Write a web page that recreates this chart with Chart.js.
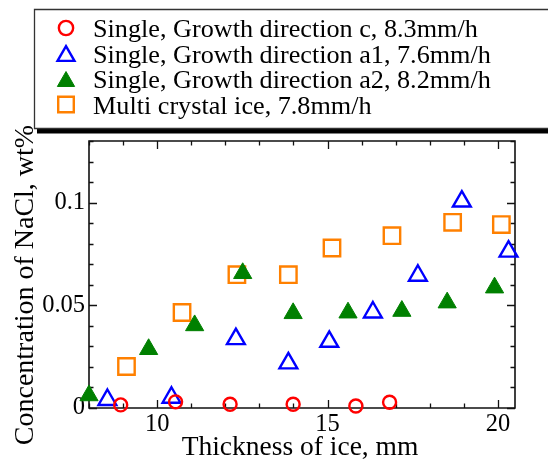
<!DOCTYPE html>
<html>
<head>
<meta charset="utf-8">
<script src="https://cdn.jsdelivr.net/npm/chart.js@4"></script>
<style>
html,body{margin:0;padding:0;background:#fff;}
#wrap{width:548px;height:461px;position:relative;}
</style>
</head>
<body>
<div id="wrap"><canvas id="c" width="548" height="461"></canvas></div>
<script>
// ---- data ----
const seriesLabels = [
  "Single, Growth direction c, 8.3mm/h",
  "Single, Growth direction a1, 7.6mm/h",
  "Single, Growth direction a2, 8.2mm/h",
  "Multi crystal ice, 7.8mm/h"
];
const cX  = [8.93, 10.54, 12.14, 13.99, 15.83, 16.82];
const cY  = [0.0015, 0.003, 0.0018, 0.0018, 0.001, 0.0028];
const a1X = [8.54, 10.42, 12.31, 13.85, 15.05, 16.33, 17.65, 18.94, 20.31];
const a1Y = [0.004, 0.0051, 0.0336, 0.0218, 0.0323, 0.0466, 0.0645, 0.1006, 0.0762];
const a2X = [8.0, 9.75, 11.1, 12.51, 13.99, 15.6, 17.18, 18.51, 19.9];
const a2Y = [0.0061, 0.0286, 0.0402, 0.0656, 0.0461, 0.0464, 0.0472, 0.0513, 0.0586];
const mX  = [9.1, 10.73, 12.34, 13.85, 15.13, 16.89, 18.67, 20.1];
const mY  = [0.0202, 0.0465, 0.0649, 0.0649, 0.0779, 0.0839, 0.0904, 0.0893];
const xMajorTicks = [10, 15, 20];
const yMajorTicks = [0, 0.05, 0.1];
const yTickLabels = ["0", "0.05", "0.1"];
const xTitle = "Thickness of ice, mm";
const yTitle = "Concentration of NaCl, wt%";

const pts = (xs, ys) => xs.map((x, i) => ({x: x, y: ys[i]}));
const SERIF = "'Liberation Serif', 'DejaVu Serif', serif";

const datasets = [
  {label: seriesLabels[0], data: pts(cX, cY), pointStyle: 'circle', pointRadius: 6.5,
   borderColor: '#ff0000', backgroundColor: 'rgba(0,0,0,0)', borderWidth: 2.4},
  {label: seriesLabels[1], data: pts(a1X, a1Y), pointStyle: 'triangle', pointRadius: 10.3,
   borderColor: '#0000ff', backgroundColor: 'rgba(0,0,0,0)', borderWidth: 2.4},
  {label: seriesLabels[2], data: pts(a2X, a2Y), pointStyle: 'triangle', pointRadius: 10.5,
   borderColor: '#008000', backgroundColor: '#008000', borderWidth: 1},
  {label: seriesLabels[3], data: pts(mX, mY), pointStyle: 'rect', pointRadius: 11.6,
   borderColor: '#ff8000', backgroundColor: 'rgba(0,0,0,0)', borderWidth: 2.4}
];
datasets.forEach(d => { d.pointHoverRadius = d.pointRadius; d.clip = false; d.showLine = false; });

const frameAndTicks = {
  id: 'frameAndTicks',
  beforeDatasetsDraw(chart) {
    const ctx = chart.ctx, a = chart.chartArea;
    const xs = chart.scales.x, ys = chart.scales.y;
    ctx.save();
    ctx.strokeStyle = '#111';
    ctx.lineWidth = 1.6;
    ctx.beginPath();
    ctx.rect(a.left, a.top, a.right - a.left, a.bottom - a.top);
    ctx.stroke();
    ctx.lineWidth = 1.3;
    ctx.beginPath();
    for (let v = 8; v <= 20.0001; v += 1) {
      const p = Math.round(xs.getPixelForValue(v)) + 0.5;
      const len = (Math.abs(v % 5) < 1e-6) ? 8 : 4.5;
      ctx.moveTo(p, a.bottom); ctx.lineTo(p, a.bottom - len);
      ctx.moveTo(p, a.top); ctx.lineTo(p, a.top + len);
    }
    for (let k = 0; k <= 13; k++) {
      const v = k / 100;
      const p = Math.round(ys.getPixelForValue(v)) + 0.5;
      const len = (k % 5 === 0) ? 8 : 4.5;
      ctx.moveTo(a.left, p); ctx.lineTo(a.left + len, p);
      ctx.moveTo(a.right, p); ctx.lineTo(a.right - len, p);
    }
    ctx.stroke();
    // axis titles
    ctx.fillStyle = '#000';
    ctx.font = '27.5px ' + SERIF;
    ctx.textAlign = 'center';
    ctx.textBaseline = 'alphabetic';
    ctx.fillText(xTitle, 300, 455);
    ctx.save();
    ctx.translate(33, 285);
    ctx.rotate(-Math.PI / 2);
    ctx.font = '28px ' + SERIF;
    ctx.fillText(yTitle, 0, 0);
    ctx.restore();
    ctx.restore();
  },
  afterDraw(chart) {
    const ctx = chart.ctx;
    ctx.save();
    // legend box with shadow
    ctx.fillStyle = '#000';
    ctx.fillRect(37, 129, 548 - 37, 4.5);
    ctx.fillStyle = '#fff';
    ctx.fillRect(34, 9, 548 - 34, 119);
    ctx.strokeStyle = '#333';
    ctx.lineWidth = 1.3;
    ctx.beginPath();
    ctx.moveTo(560, 9.5); ctx.lineTo(34.5, 9.5); ctx.lineTo(34.5, 128.5); ctx.lineTo(560, 128.5);
    ctx.stroke();
    const rowY = [28, 53.5, 79, 104.5];
    chart.data.datasets.forEach((d, i) => {
      ctx.save();
      ctx.strokeStyle = d.borderColor;
      ctx.fillStyle = d.backgroundColor;
      ctx.lineWidth = d.borderWidth;
      let r = d.pointRadius * (d.pointStyle === 'circle' ? 1.1 : 0.95);
      let yy = rowY[i];
      if (d.pointStyle === 'triangle') yy += r / 4;
      Chart.helpers.drawPoint(ctx, {pointStyle: d.pointStyle, radius: r, borderWidth: d.borderWidth}, 66, yy);
      ctx.restore();
      ctx.fillStyle = '#000';
      ctx.font = '26.2px ' + SERIF;
      ctx.textAlign = 'left';
      ctx.textBaseline = 'alphabetic';
      ctx.fillText(d.label, 93, rowY[i] + 9);
    });
    ctx.restore();
  }
};

new Chart(document.getElementById('c'), {
  type: 'scatter',
  data: {datasets: datasets},
  plugins: [frameAndTicks],
  options: {
    responsive: false,
    animation: false,
    events: [],
    layout: {padding: {top: 141, right: 33, left: 0, bottom: 0}},
    plugins: {legend: {display: false}, tooltip: {enabled: false}},
    scales: {
      x: {
        type: 'linear', min: 8, max: 20.5,
        afterFit(s) { s.height = 53; },
        afterBuildTicks(s) { s.ticks = xMajorTicks.map(v => ({value: v})); },
        border: {display: false},
        grid: {display: false, drawTicks: false},
        ticks: {
          autoSkip: false, maxRotation: 0, padding: 2,
          color: '#000', font: {family: SERIF, size: 24.5},
          callback: v => String(v)
        },
        title: {display: false}
      },
      y: {
        type: 'linear', min: 0, max: 0.13,
        afterFit(s) { s.width = 89; },
        afterBuildTicks(s) { s.ticks = yMajorTicks.map(v => ({value: v})); },
        border: {display: false},
        grid: {display: false, drawTicks: false},
        ticks: {
          autoSkip: false, padding: 4,
          color: '#000', font: {family: SERIF, size: 24.5},
          callback: (v, i) => yTickLabels[i]
        },
        title: {display: false}
      }
    }
  }
});
</script>
</body>
</html>
